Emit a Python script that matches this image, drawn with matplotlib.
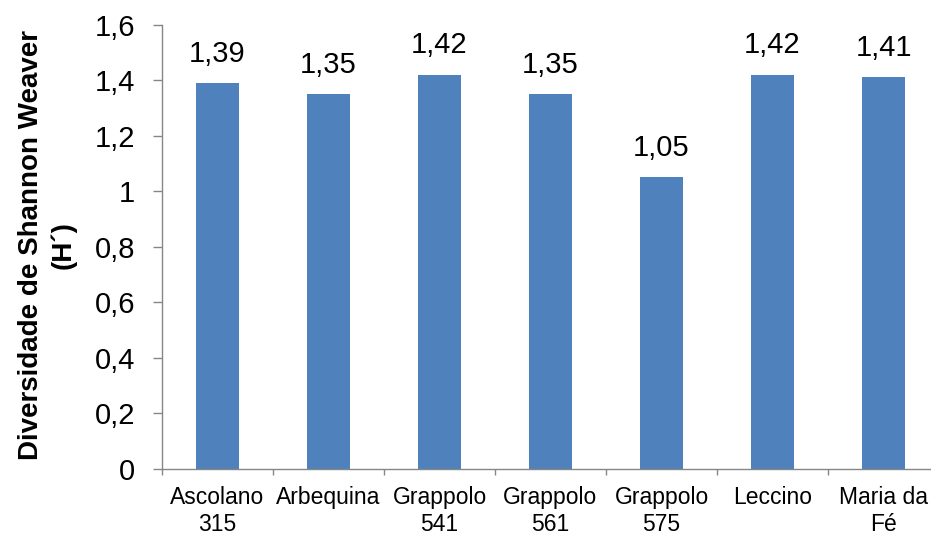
import matplotlib
matplotlib.use("Agg")
import matplotlib.pyplot as plt
import matplotlib.ticker as mticker

plt.rcParams.update({
    "font.family": ["Liberation Sans", "DejaVu Sans"],
})

# Shannon-Weaver diversity per cultivar
cultivars = ["Ascolano\n315", "Arbequina", "Grappolo\n541", "Grappolo\n561",
             "Grappolo\n575", "Leccino", "Maria da\nFé"]
diversity = [1.39, 1.35, 1.42, 1.35, 1.05, 1.42, 1.41]
y_ticks = [0, 0.2, 0.4, 0.6, 0.8, 1.0, 1.2, 1.4, 1.6]

BAR_COLOR = "#4F81BD"
AXIS_COLOR = "#868686"


def comma(v, _=None):
    s = f"{v:.2f}".rstrip("0").rstrip(".")
    return s.replace(".", ",")


W, H = 931, 535
fig = plt.figure(figsize=(W / 100, H / 100), dpi=100)
# plot area: x from 162 px to 939 px (last slot runs past the edge), y 0 at 469 px, 1.6 at 24.5 px
ax = fig.add_axes([162 / W, (H - 469) / H, 777 / W, 444.5 / H])

x = range(len(cultivars))
bars = ax.bar(x, diversity, width=0.39, color=BAR_COLOR, zorder=2)
ax.bar_label(bars, labels=[f"{v:.2f}".replace(".", ",") for v in diversity],
             padding=11, fontsize=21, color="black")

ax.set_xlim(-0.5, len(cultivars) - 0.5)
ax.set_ylim(0, 1.6)
ax.set_yticks(y_ticks)
ax.yaxis.set_major_formatter(mticker.FuncFormatter(comma))
ax.tick_params(axis="y", labelsize=21, length=6.5, width=1, color=AXIS_COLOR, pad=13)

# category labels centred, tick marks between categories
ax.set_xticks(list(x))
ax.set_xticklabels(cultivars, fontsize=16.5, linespacing=1.25)
ax.set_xticks([i - 0.5 for i in range(len(cultivars) + 1)], minor=True)
ax.tick_params(axis="x", which="major", length=0, pad=12)
ax.tick_params(axis="x", which="minor", length=4.5, width=1, color=AXIS_COLOR)

for side in ("top", "right"):
    ax.spines[side].set_visible(False)
for side in ("left", "bottom"):
    ax.spines[side].set_color(AXIS_COLOR)
    ax.spines[side].set_linewidth(1)

fig.text(47 / W, 1 - 245 / H, "Diversidade de Shannon Weaver\n(H´)",
         rotation=90, ha="center", va="center", multialignment="center",
         fontsize=20, fontweight="bold", linespacing=1.3)

fig.savefig("out.png", dpi=100)
